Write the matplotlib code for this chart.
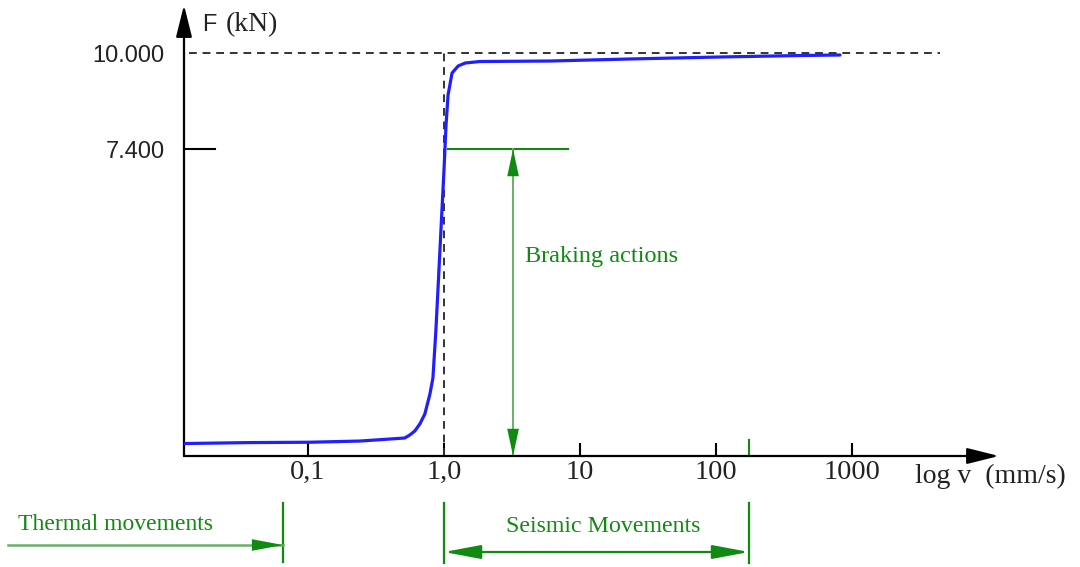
import numpy as np
import matplotlib
matplotlib.use("Agg")
import matplotlib.pyplot as plt
import matplotlib.transforms as mtransforms

# ---------------- data ----------------
velocity = [0.01246, 0.0375, 0.1035, 0.241, 0.514, 0.560, 0.610, 0.664, 0.723,
            0.788, 0.829, 0.872, 0.918, 0.966, 1.0, 1.035, 1.071, 1.146, 1.270,
            1.431, 1.84, 6.0, 23.3, 107, 415, 816]
force = [-575, -550, -540, -508, -426, -345, -236, -47, 224, 766, 1199, 2499,
         4124, 5748, 6832, 8050, 8863, 9458, 9648, 9729, 9770, 9783, 9838,
         9892, 9932, 9946]

x_ticks = [0.1, 1.0, 10, 100, 1000]
x_tick_labels = ["0,1", "1,0", "10", "100", "1000"]
y_ticks = [7400, 10000]
y_tick_labels = ["7.400", "10.000"]

f_max = 10000
f_brake = 7400
v_ref = 1.0
v_brake = 3.22
v_thermal_max = 0.0655
v_seismic_min = 1.0
v_seismic_max = 175
v_thermal_start = 0.00062
brake_line_end = 8.17
dash_end = 4436

# ---------------- figure ----------------
W, H = 1080, 567
fig = plt.figure(figsize=(W / 100, H / 100), dpi=100)
ax_left, ax_right, ax_bottom, ax_top = 184, 999, 456, 5
ax = fig.add_axes([ax_left / W, 1 - ax_bottom / H,
                   (ax_right - ax_left) / W, (ax_bottom - ax_top) / H])
ax.set_xscale("log")
ax.set_xlim(10 ** ((ax_left - 444) / 136), 10 ** ((ax_right - 444) / 136))
ax.set_ylim(-913, 11300)
for s in ax.spines.values():
    s.set_visible(False)

green = "#118a11"
light_green = "#6aae6a"
serif = ["Liberation Serif", "DejaVu Serif"]
sans = ["Liberation Sans", "DejaVu Sans"]

# axis arrows
axis_arrow = dict(arrowstyle="-|>,head_length=1.4,head_width=0.35",
                  color="black", lw=1.6, mutation_scale=14,
                  shrinkA=0, shrinkB=0)
ax.annotate("", xy=(1, 0), xytext=(0, 0), xycoords="axes fraction",
            arrowprops=axis_arrow, annotation_clip=False)
ax.annotate("", xy=(0, 1), xytext=(0, 0), xycoords="axes fraction",
            arrowprops=axis_arrow, annotation_clip=False)

# ticks
ax.set_xticks(x_ticks)
ax.set_xticklabels(x_tick_labels, fontfamily=serif, fontsize=20.5)
ax.xaxis.set_minor_locator(matplotlib.ticker.NullLocator())
ax.tick_params(axis="x", direction="in", length=9.5, width=1.5, pad=3,
               colors="black", labelcolor="#222222")
ax.set_yticks(y_ticks)
ax.set_yticklabels(y_tick_labels, fontfamily=sans, fontsize=17, color="#222222")
ax.tick_params(axis="y", direction="in", length=0, pad=14)
ax.plot([0, 0.038], [f_brake, f_brake], transform=ax.get_yaxis_transform(),
        color="black", lw=1.5, clip_on=False)

# green tick on x axis at seismic max
ax.plot([v_seismic_max] * 2, [0, 0.036], transform=ax.get_xaxis_transform(),
        color=green, lw=1.5, clip_on=False)

# dashed reference lines
ax.plot([ax.get_xlim()[0] * 1.08, dash_end], [f_max, f_max], color="#333333",
        lw=1.4, ls=(0, (4, 3)), clip_on=False)
ax.plot([v_ref, v_ref], [ax.get_ylim()[0], f_max], color="#333333",
        lw=1.4, ls=(0, (4, 3)), clip_on=False)

# curve
ax.plot(velocity, force, color="#1f1fff", lw=2.3, solid_capstyle="round",
        zorder=5)

# braking line and arrow
ax.plot([1.07, brake_line_end], [f_brake, f_brake], color=green, lw=1.5)
ax.plot([v_brake, v_brake], [f_brake, ax.get_ylim()[0]], color=light_green,
        lw=1.4)
ax.annotate("", xy=(v_brake, ax.get_ylim()[0]), xytext=(v_brake, f_brake),
            arrowprops=dict(arrowstyle="<|-|>,head_length=1.4,head_width=0.3",
                            color=green, lw=0, mutation_scale=14,
                            shrinkA=0, shrinkB=0))
fig.text(525 / W, 1 - 257 / H, "Braking actions", fontfamily=serif,
         fontsize=17.5, color=green, ha="left", va="center")

# axis titles
fig.text(202 / W, 1 - 25 / H, "F", fontfamily=sans, fontsize=17,
         color="#222222", ha="left", va="center")
fig.text(226 / W, 1 - 25 / H, "(kN)", fontfamily=serif, fontsize=20,
         color="#222222", ha="left", va="center")
fig.text(915 / W, 1 - 476 / H, "log v  (mm/s)", fontfamily=serif, fontsize=20,
         color="#222222", ha="left", va="center")

# bottom annotations (x in data, y in figure)
bt = mtransforms.blended_transform_factory(ax.transData, fig.transFigure)
def fy(py):
    return 1 - py / H

for v in [v_thermal_max]:
    ax.plot([v, v], [fy(503), fy(562)], transform=bt, color=green, lw=1.6,
            clip_on=False)
for v in [v_seismic_min, v_seismic_max]:
    ax.plot([v, v], [fy(503), fy(563)], transform=bt, color=green, lw=1.6,
            clip_on=False)

ax.plot([v_thermal_start, v_thermal_max], [fy(545), fy(545)], transform=bt,
        color=light_green, lw=1.8, clip_on=False)
ax.annotate("", xy=(v_thermal_max, fy(545)), xytext=(v_thermal_start, fy(545)),
            xycoords=bt, textcoords=bt, annotation_clip=False,
            arrowprops=dict(arrowstyle="-|>,head_length=1.6,head_width=0.3",
                            color=green, lw=0, mutation_scale=14,
                            shrinkA=0, shrinkB=0))
ax.annotate("", xy=(v_seismic_max, fy(552)), xytext=(v_seismic_min, fy(552)),
            xycoords=bt, textcoords=bt, annotation_clip=False,
            arrowprops=dict(arrowstyle="<|-|>,head_length=1.6,head_width=0.3",
                            color=green, lw=1.6, mutation_scale=14,
                            shrinkA=0, shrinkB=0))
fig.text(18 / W, 1 - 525 / H, "Thermal movements", fontfamily=serif,
         fontsize=17, color=green, ha="left", va="center")
fig.text(603 / W, 1 - 527 / H, "Seismic Movements", fontfamily=serif,
         fontsize=17.2, color=green, ha="center", va="center")

fig.savefig("out.png", dpi=100, facecolor="white")
